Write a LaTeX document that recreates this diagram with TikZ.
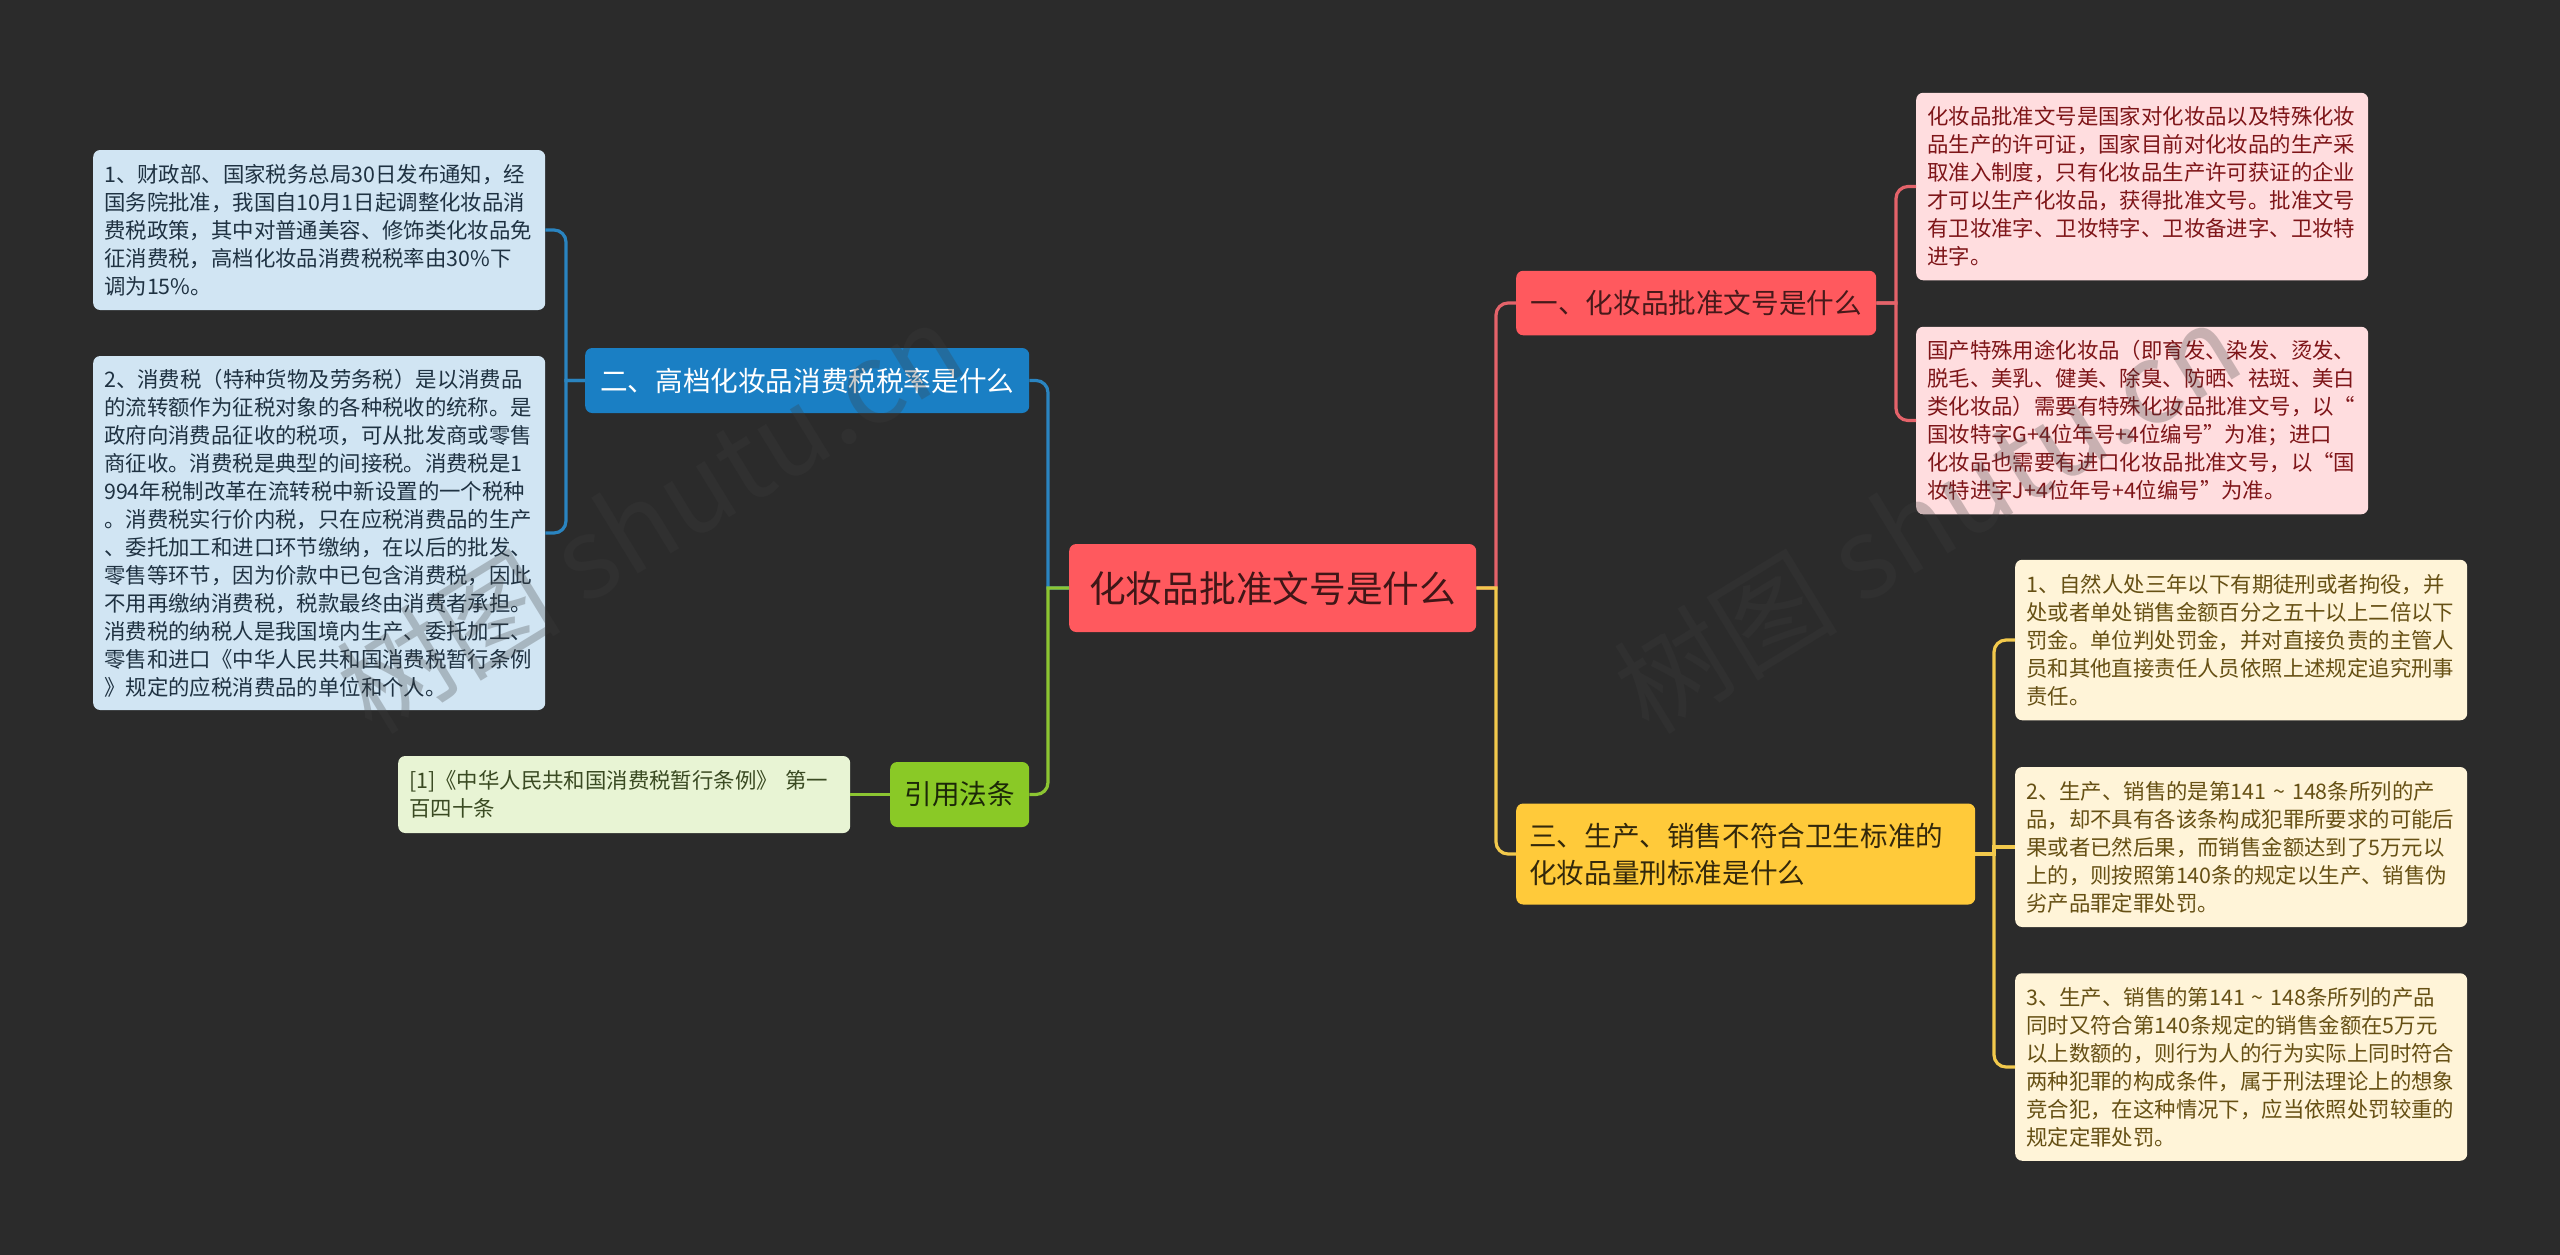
\documentclass[tikz,border=0pt]{standalone}
\usepackage{fontspec}
\setmainfont{Noto Sans CJK SC}
\usetikzlibrary{positioning,calc}
\definecolor{BoardDark}{HTML}{2B2B2B}
\definecolor{TopicRed}{HTML}{FF595E}
\definecolor{TopicBlue}{HTML}{1A7FC4}
\definecolor{TopicGreen}{HTML}{8AC926}
\definecolor{TopicYellow}{HTML}{FFCA3A}
\definecolor{LeafRed}{HTML}{FFDDDF}
\definecolor{LeafBlue}{HTML}{D1E5F3}
\definecolor{LeafGreen}{HTML}{E8F4D4}
\definecolor{LeafYellow}{HTML}{FFF4D8}
\definecolor{InkRed}{HTML}{7E1518}
\definecolor{InkYellow}{HTML}{665014}
\definecolor{InkBlue}{HTML}{1F3242}
\definecolor{InkGreen}{HTML}{3A4A22}
\definecolor{LinkRed}{HTML}{E4636A}
\definecolor{LinkBlue}{HTML}{2A84C0}
\definecolor{LinkGreen}{HTML}{8CC532}
\definecolor{LinkYellow}{HTML}{F2C94C}
\definecolor{MarkGray}{HTML}{3D3D3D}
\newcommand{\rangetilde}{\hspace{7pt}\char"7E\hspace{7pt}}

\begin{document}
\begin{tikzpicture}[
          x=1pt, y=-1pt,
          every node/.style={rectangle, rounded corners=7pt, inner sep=0pt, align=left, anchor=west},
          topicnode/.style={minimum height=#1, font=\fontsize{27.6}{37}\selectfont},
          leafnode/.style={minimum height=#1, minimum width=452pt, text width=430pt, font=\fontsize{21.4}{28}\selectfont},
          mark text/.style={anchor=center, rotate=31.5, text=MarkGray, opacity=0.28, font=\fontsize{112}{112}\selectfont},
          link/.style={draw, line width=3.2pt}
        ]
          \useasboundingbox (0,0) rectangle (2560,1254);
          \fill[BoardDark] (-5,-5) rectangle (2565,1259);

          % central topic
          \node[fill=TopicRed, text=black!75!TopicRed, minimum width=407pt, minimum height=88pt, align=center, font=\fontsize{36.7}{44}\selectfont] (root) at (1069,588) {化妆品批准文号是什么};

          % right side
          \node[topicnode=64.5pt, fill=TopicRed, text=black!72!TopicRed, minimum width=360pt] (cert) at (1516,303) {一、化妆品批准文号是什么};
          \node[leafnode=187.5pt, fill=LeafRed, text=InkRed] (certa) at (1916,186.5) {化妆品批准文号是国家对化妆品以及特殊化妆\\品生产的许可证，国家目前对化妆品的生产采\\取准入制度，只有化妆品生产许可获证的企业\\才可以生产化妆品，获得批准文号。批准文号\\有卫妆准字、卫妆特字、卫妆备进字、卫妆特\\进字。};
          \node[leafnode=187.5pt, fill=LeafRed, text=InkRed] (certb) at (1916,420.5) {国产特殊用途化妆品（即育发、染发、烫发、\\脱毛、美乳、健美、除臭、防晒、祛斑、美白\\类化妆品）需要有特殊化妆品批准文号，以“\\国妆特字G+4位年号+4位编号”为准；进口\\化妆品也需要有进口化妆品批准文号，以“国\\妆特进字J+4位年号+4位编号”为准。};

          \node[topicnode=101pt, fill=TopicYellow, text=black!80!TopicYellow, minimum width=459pt, text width=433pt] (penalty) at (1516,854) {三、生产、销售不符合卫生标准的\\化妆品量刑标准是什么};
          \node[leafnode=160.5pt, fill=LeafYellow, text=InkYellow] (pena) at (2015,640) {1、自然人处三年以下有期徒刑或者拘役，并\\处或者单处销售金额百分之五十以上二倍以下\\罚金。单位判处罚金，并对直接负责的主管人\\员和其他直接责任人员依照上述规定追究刑事\\责任。};
          \node[leafnode=160pt, fill=LeafYellow, text=InkYellow] (penb) at (2015,847) {2、生产、销售的是第141\rangetilde 148条所列的产\\品，却不具有各该条构成犯罪所要求的可能后\\果或者已然后果，而销售金额达到了5万元以\\上的，则按照第140条的规定以生产、销售伪\\劣产品罪定罪处罚。};
          \node[leafnode=187.5pt, fill=LeafYellow, text=InkYellow] (penc) at (2015,1067) {3、生产、销售的第141\rangetilde 148条所列的产品\\同时又符合第140条规定的销售金额在5万元\\以上数额的，则行为人的行为实际上同时符合\\两种犯罪的构成条件，属于刑法理论上的想象\\竞合犯，在这种情况下，应当依照处罚较重的\\规定定罪处罚。};

          % left side
          \node[topicnode=65pt, fill=TopicBlue, text=white, minimum width=444pt] (tax) at (585,380.5) {二、高档化妆品消费税税率是什么};
          \node[leafnode=160pt, fill=LeafBlue, text=InkBlue] (taxa) at (93,230) {1、财政部、国家税务总局30日发布通知，经\\国务院批准，我国自10月1日起调整化妆品消\\费税政策，其中对普通美容、修饰类化妆品免\\征消费税，高档化妆品消费税税率由30\%下\\调为15\%。};
          \node[leafnode=354pt, fill=LeafBlue, text=InkBlue] (taxb) at (93,533) {2、消费税（特种货物及劳务税）是以消费品\\的流转额作为征税对象的各种税收的统称。是\\政府向消费品征收的税项，可从批发商或零售\\商征收。消费税是典型的间接税。消费税是1\\994年税制改革在流转税中新设置的一个税种\\。消费税实行价内税，只在应税消费品的生产\\、委托加工和进口环节缴纳，在以后的批发、\\零售等环节，因为价款中已包含消费税，因此\\不用再缴纳消费税，税款最终由消费者承担。\\消费税的纳税人是我国境内生产、委托加工、\\零售和进口《中华人民共和国消费税暂行条例\\》规定的应税消费品的单位和个人。};

          \node[topicnode=65pt, fill=TopicGreen, text=black!80!TopicGreen, minimum width=139pt] (law) at (890,794.5) {引用法条};
          \node[leafnode=77pt, fill=LeafGreen, text=InkGreen] (lawa) at (398,794.5) {[1]《中华人民共和国消费税暂行条例》 第一\\百四十条};

          % connectors
          \draw[link, LinkRed] (root.east) -- (1496,588) [rounded corners=12pt] -- (1496,303) -- (cert.west);
          \draw[link, LinkYellow] (root.east) -- (1496,588) [rounded corners=12pt] -- (1496,854) -- (penalty.west);
          \draw[link, LinkBlue] (root.west) -- (1048,588) [rounded corners=12pt] -- (1048,380.5) -- (tax.east);
          \draw[link, LinkGreen] (root.west) -- (1048,588) [rounded corners=12pt] -- (1048,794.5) -- (law.east);
          \draw[link, LinkRed] (cert.east) -- (1896,303) [rounded corners=12pt] -- (1896,186.5) -- (certa.west);
          \draw[link, LinkRed] (cert.east) -- (1896,303) [rounded corners=12pt] -- (1896,420.5) -- (certb.west);
          \draw[link, LinkYellow] (penalty.east) -- (1994,854) [rounded corners=12pt] -- (1994,640) -- (pena.west);
          \draw[link, LinkYellow] (penalty.east) -- (1994,854) [rounded corners=12pt] -- (1994,1067) -- (penc.west);
          \draw[link, LinkYellow] (penalty.east) -- (1994,854) -- (1994,847) -- (penb.west);
          \draw[link, LinkBlue] (tax.west) -- (566,380.5) [rounded corners=12pt] -- (566,230) -- (taxa.east);
          \draw[link, LinkBlue] (tax.west) -- (566,380.5) [rounded corners=12pt] -- (566,533) -- (taxb.east);
          \draw[link, LinkGreen] (law.west) -- (lawa.east);

          % watermark
          \node[mark text] (markl) at (650,517) {树图 shutu.cn};
          \node[mark text] (markr) at (1927,517) {树图 shutu.cn};
        \end{tikzpicture}
\end{document}
